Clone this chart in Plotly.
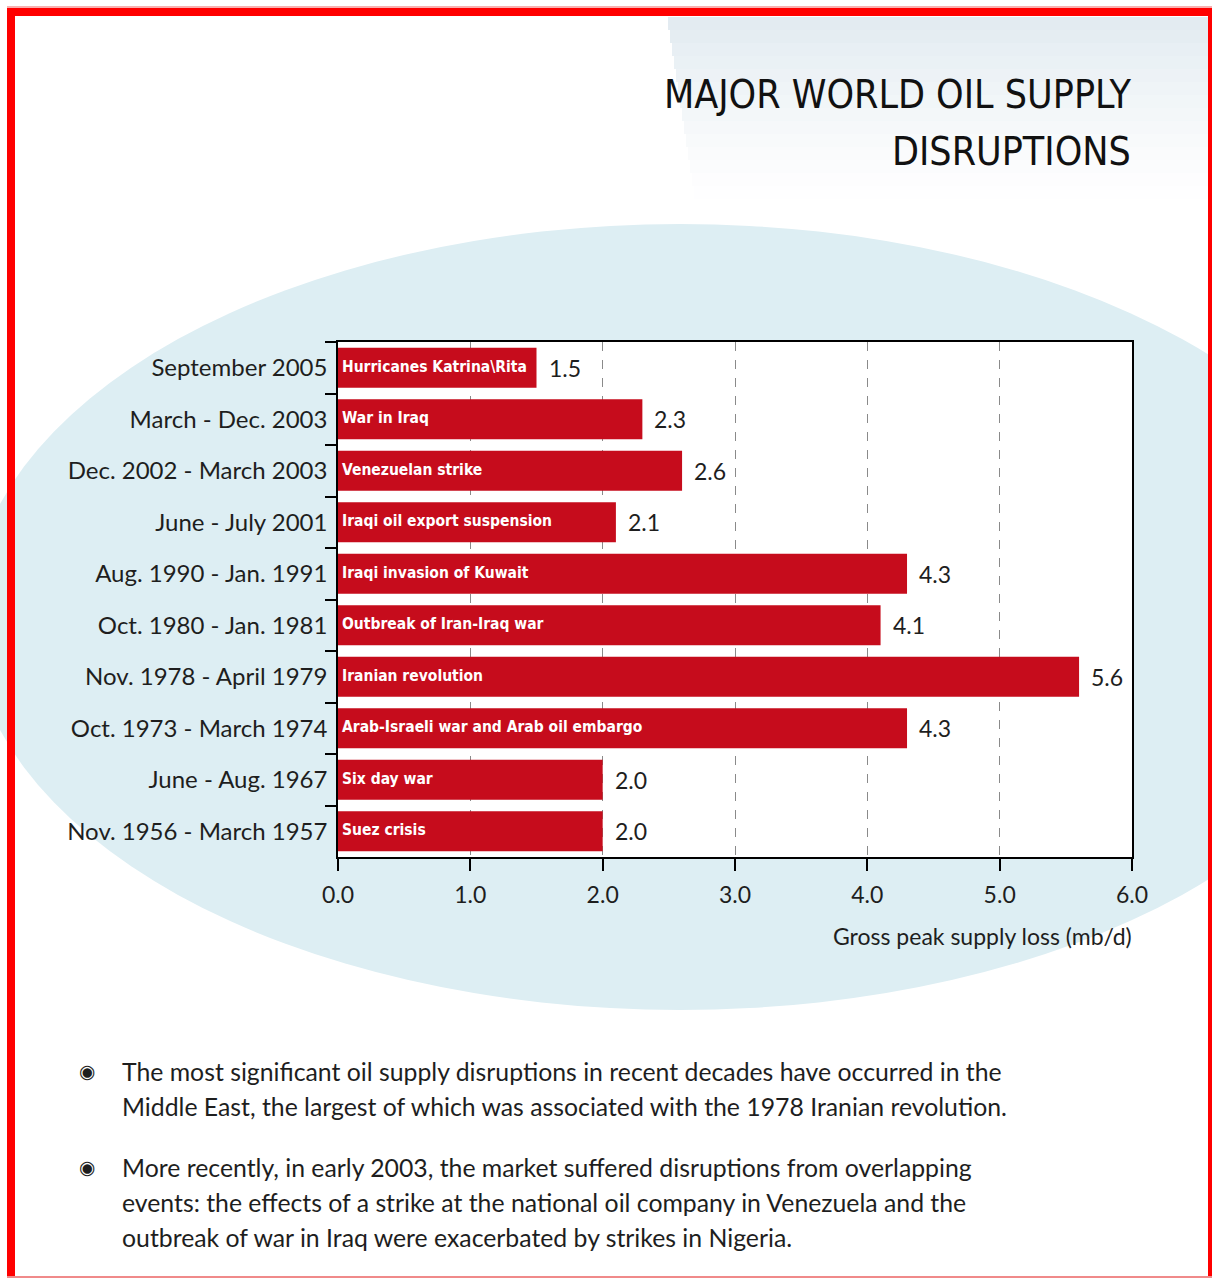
import plotly.graph_objects as go

# ---------------- data ----------------
periods = [
    "September 2005",
    "March - Dec. 2003",
    "Dec. 2002 - March 2003",
    "June - July 2001",
    "Aug. 1990 - Jan. 1991",
    "Oct. 1980 - Jan. 1981",
    "Nov. 1978 - April 1979",
    "Oct. 1973 - March 1974",
    "June - Aug. 1967",
    "Nov. 1956 - March 1957",
]
events = [
    "Hurricanes Katrina\\Rita",
    "War in Iraq",
    "Venezuelan strike",
    "Iraqi oil export suspension",
    "Iraqi invasion of Kuwait",
    "Outbreak of Iran-Iraq war",
    "Iranian revolution",
    "Arab-Israeli war and Arab oil embargo",
    "Six day war",
    "Suez crisis",
]
supply_loss = [1.5, 2.3, 2.6, 2.1, 4.3, 4.1, 5.6, 4.3, 2.0, 2.0]
x_ticks = [0, 1, 2, 3, 4, 5, 6]

title_lines = ["MAJOR WORLD OIL SUPPLY", "DISRUPTIONS"]
x_title = "Gross peak supply loss (mb/d)"
bullet_paragraphs = [
    ["The most significant oil supply disruptions in recent decades have occurred in the",
     "Middle East, the largest of which was associated with the 1978 Iranian revolution."],
    ["More recently, in early 2003, the market suffered disruptions from overlapping",
     "events: the effects of a strike at the national oil company in Venezuela and the",
     "outbreak of war in Iraq were exacerbated by strikes in Nigeria."],
]

# ---------------- layout helpers ----------------
W, H = 1212, 1278
def fx(p):
    return p / W
def fy(p):
    return 1 - p / H

PLOT_L, PLOT_R, PLOT_T, PLOT_B = 338, 1132, 342, 857
BAR_RED = "#c60c1c"
TXT = "#1e1e1e"
FONT = "Lato, 'Open Sans', sans-serif"
NARROW = "'DejaVu Sans Condensed', 'Liberation Sans Narrow', sans-serif"

fig = go.Figure()
fig.add_trace(go.Bar(
    orientation="h",
    y=periods,
    x=supply_loss,
    width=0.78,
    marker=dict(color=BAR_RED, line=dict(width=0)),
    hoverinfo="skip",
    showlegend=False,
))

shapes = []
# faded photo behind the title
n_strips = 14
for i in range(n_strips):
    y0 = 17 + i * 13
    op = 0.45 * (1 - i / n_strips) ** 1.3
    shapes.append(dict(type="rect", xref="paper", yref="paper",
                       x0=fx(668 + 2 * i), x1=fx(1208), y0=fy(y0 + 13), y1=fy(y0),
                       fillcolor=f"rgba(192,211,224,{op:.3f})", line=dict(width=0), layer="below"))
# light blue ellipse
cx, cy, rx, ry = 680, 617, 710, 393
shapes.append(dict(type="circle", xref="paper", yref="paper",
                   x0=fx(cx - rx), x1=fx(cx + rx), y0=fy(cy + ry), y1=fy(cy - ry),
                   fillcolor="#ddeef3", line=dict(width=0), layer="below"))
# white plot area
shapes.append(dict(type="rect", xref="paper", yref="paper",
                   x0=fx(PLOT_L), x1=fx(PLOT_R), y0=fy(PLOT_B), y1=fy(PLOT_T),
                   fillcolor="white", line=dict(width=0), layer="below"))
# red page border
for (x0, x1, y0, y1, col) in [
    (7, 15, 8, H, "#ff0000"),
    (7, W, 8, 16, "#ff0000"),
    (1208, W, 8, H, "#ff0000"),
    (7, W, 1276, H, "#f08a8a"),
    (7, W, 6, 8, "#f8b0b0"),
]:
    shapes.append(dict(type="rect", xref="paper", yref="paper",
                       x0=fx(x0), x1=fx(x1), y0=fy(y1), y1=fy(y0),
                       fillcolor=col, line=dict(width=0), layer="above"))

annotations = []
# title
for i, line in enumerate(title_lines):
    annotations.append(dict(xref="paper", yref="paper", x=fx(1133), y=fy(95 + i * 56),
                            xanchor="right", yanchor="middle", showarrow=False, text=line,
                            font=dict(family=NARROW, size=39, color="#111111")))
# event names inside bars
for p, e in zip(periods, events):
    annotations.append(dict(xref="x", yref="y", x=0, y=p, xanchor="left", yanchor="middle",
                            xshift=2, yshift=1, showarrow=False, text=f"<b>{e}</b>",
                            font=dict(family=NARROW, size=15.5, color="white")))
# values
for p, v in zip(periods, supply_loss):
    annotations.append(dict(xref="x", yref="y", x=v, y=p, xanchor="left", yanchor="middle",
                            xshift=10, showarrow=False, text=f"{v:.1f}",
                            font=dict(family=FONT, size=23, color=TXT)))
# x axis title
annotations.append(dict(xref="paper", yref="paper", x=fx(1134), y=fy(936),
                        xanchor="right", yanchor="middle", showarrow=False, text=x_title,
                        font=dict(family=FONT, size=23, color=TXT)))
# bullets
line_y = [[1071, 1106], [1167, 1202, 1237]]
for para, ys in zip(bullet_paragraphs, line_y):
    annotations.append(dict(xref="paper", yref="paper", x=fx(87), y=fy(ys[0]),
                            xanchor="center", yanchor="middle", showarrow=False, text="◉",
                            font=dict(family="DejaVu Sans", size=19, color=TXT)))
    for line, yy in zip(para, ys):
        annotations.append(dict(xref="paper", yref="paper", x=fx(120), y=fy(yy),
                                xanchor="left", yanchor="middle", showarrow=False, text=line,
                                font=dict(family=FONT, size=24.8, color=TXT)))

fig.update_layout(
    width=W, height=H,
    margin=dict(l=0, r=0, t=0, b=0, autoexpand=False),
    paper_bgcolor="white",
    plot_bgcolor="rgba(0,0,0,0)",
    bargap=0.22,
    shapes=shapes,
    annotations=annotations,
    xaxis=dict(
        domain=[fx(PLOT_L), fx(PLOT_R)],
        range=[0, 6],
        tickvals=x_ticks,
        tickformat=".1f",
        ticks="outside", ticklen=12, tickwidth=1.5, tickcolor="black",
        ticklabelstandoff=5,
        showline=True, linecolor="black", linewidth=1.5, mirror=True,
        showgrid=True, gridcolor="#8a8a8a", gridwidth=1, griddash="dash",
        zeroline=False, automargin=False,
        tickfont=dict(family=FONT, size=23, color=TXT),
        fixedrange=True,
    ),
    yaxis=dict(
        domain=[fy(PLOT_B), fy(PLOT_T)],
        categoryorder="array", categoryarray=periods,
        autorange="reversed",
        ticks="outside", tickson="boundaries", ticklen=11, tickwidth=1.5, tickcolor="black",
        ticklabelstandoff=4,
        showline=True, linecolor="black", linewidth=1.5, mirror=True,
        showgrid=False, zeroline=False, automargin=False,
        tickfont=dict(family=FONT, size=24, color=TXT),
        fixedrange=True,
    ),
)

fig.write_html(
    "out.html",
    config={"displayModeBar": False},
    post_script="document.body.style.margin='0';document.body.style.overflow='hidden';",
)
